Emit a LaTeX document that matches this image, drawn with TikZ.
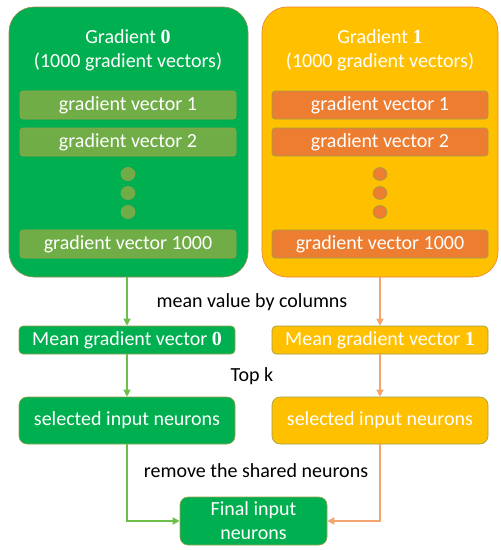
\documentclass[tikz,border=0pt]{standalone}
\usepackage{fontspec}
\setmainfont{Carlito}
\newfontfamily\digitfont{Liberation Serif}
\usetikzlibrary{arrows.meta,shapes.geometric}
\definecolor{offgreen}{HTML}{00B050}
\definecolor{bargreen}{HTML}{70AD47}
\definecolor{arrowgreen}{HTML}{6CC04A}
\definecolor{offgold}{HTML}{FFC000}
\definecolor{offorange}{HTML}{ED7D31}
\definecolor{paleorange}{HTML}{F4A46E}
\definecolor{edgebrown}{HTML}{9A8A50}
\definecolor{edgeolive}{HTML}{9CA04A}
\tikzset{
  bigbox/.style={draw=edgebrown,line width=0.6pt,rounded corners=25pt,minimum width=239pt,minimum height=270pt},
  bar/.style={draw=edgeolive,line width=0.6pt,rounded corners=3pt,minimum width=216pt,minimum height=28pt,text=white},
  dot/.style={ellipse,draw=edgeolive,line width=0.6pt,minimum width=14pt,minimum height=13pt,inner sep=0pt},
  flowbox/.style={draw=edgeolive,line width=0.6pt,text=white,minimum width=216pt,align=center},
  plain/.style={text=black},
  garrow/.style={draw=arrowgreen,line width=1.4pt,-{Triangle[length=7pt,width=7pt]}},
  oarrow/.style={draw=paleorange,line width=1.4pt,-{Triangle[length=7pt,width=7pt]}}}
\newcommand{\gd}[1]{{\digitfont\bfseries #1}}

\begin{document}
\begin{tikzpicture}[x=1pt,y=-1pt,font=\fontsize{20}{24}\selectfont]
\useasboundingbox (0,0) rectangle (501,550);
\node[bigbox,fill=offgreen] (grad0) at (128.5,142) {};
\node[bigbox,fill=offgold,draw=offorange,minimum width=236pt] (grad1) at (380,142) {};
\node[text=white,align=center] (title0) at (128,50) {Gradient \gd{0}\\(1000 gradient vectors)};
\node[text=white,align=center] (title1) at (380,50) {Gradient \gd{1}\\(1000 gradient vectors)};
\node[bar,fill=bargreen] (v01) at (128,105) {gradient vector 1};
\node[bar,fill=bargreen] (v02) at (128,142) {gradient vector 2};
\node[dot,fill=bargreen] (d01) at (128,174) {};
\node[dot,fill=bargreen] (d02) at (128,193) {};
\node[dot,fill=bargreen] (d03) at (128,212) {};
\node[bar,fill=bargreen] (v0k) at (128,244) {gradient vector 1000};
\node[bar,fill=offorange] (v11) at (380,105) {gradient vector 1};
\node[bar,fill=offorange] (v12) at (380,142) {gradient vector 2};
\node[dot,fill=offorange] (d11) at (380,174) {};
\node[dot,fill=offorange] (d12) at (380,193) {};
\node[dot,fill=offorange] (d13) at (380,212) {};
\node[bar,fill=offorange] (v1k) at (380,244) {gradient vector 1000};
\node[flowbox,fill=offgreen,rounded corners=4pt,minimum height=28pt] (mean0) at (127,340) {Mean gradient vector \gd{0}};
\node[flowbox,fill=offgold,rounded corners=4pt,minimum height=28pt] (mean1) at (380,340) {Mean gradient vector \gd{1}};
\node[flowbox,fill=offgreen,rounded corners=8pt,minimum height=47pt] (sel0) at (127,420.5) {selected input neurons};
\node[flowbox,fill=offgold,rounded corners=8pt,minimum height=47pt] (sel1) at (380,420.5) {selected input neurons};
\node[flowbox,fill=offgreen,rounded corners=8pt,minimum width=147pt,minimum height=48pt,inner sep=0pt] (final) at (253.5,521) {Final input\\neurons};
\node[plain] (meanlbl) at (252,302) {mean value by columns};
\node[plain] (toplbl) at (252,376) {Top k};
\node[plain] (removelbl) at (256,471) {remove the shared neurons};
\draw[garrow] (grad0.south -| mean0.north) -- (mean0.north);
\draw[oarrow] (grad1.south) -- (mean1.north);
\draw[garrow] (mean0.south) -- (sel0.north);
\draw[oarrow] (mean1.south) -- (sel1.north);
\draw[garrow] (sel0.south) |- (final.west);
\draw[oarrow] (sel1.south) |- (final.east);
\end{tikzpicture}
\end{document}
